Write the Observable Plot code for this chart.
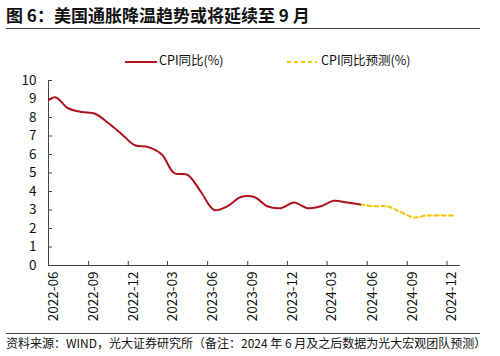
<!DOCTYPE html>
<html>
<head>
<meta charset="utf-8">
<script src="https://cdn.jsdelivr.net/npm/d3@7"></script>
<script src="https://cdn.jsdelivr.net/npm/@observablehq/plot@0.6"></script>
<style>
  html, body { margin: 0; padding: 0; background: #fff; }
  body { width: 500px; height: 356px; position: relative; overflow: hidden;
         font-family: "Noto Sans CJK SC", "Noto Sans", sans-serif; color: #111; }
  .title { position: absolute; left: 6px; top: 4px; font-size: 17px; font-weight: bold; line-height: 22px; white-space: nowrap; }
  .rule { position: absolute; left: 6px; width: 474px; height: 1px; background: #444; }
  .legend { position: absolute; top: 51px; left: 0; width: 500px; height: 18px; font-size: 12.5px; line-height: 18px; }
  .legend .item { position: absolute; top: 0; white-space: nowrap; }
  .legend svg { vertical-align: middle; }
  .caption { position: absolute; left: 6px; top: 335px; font-size: 12px; line-height: 16px; white-space: nowrap; color: #111; }
  #chart { position: absolute; left: 0; top: 70px; }
</style>
</head>
<body>
<div class="title">图 6：美国通胀降温趋势或将延续至 9 月</div>
<div class="rule" style="top:28px"></div>
<div class="legend">
  <div class="item" style="left:125px"><svg width="34" height="18"><line x1="0" x2="32" y1="9" y2="9" stroke="#B0121C" stroke-width="2"/></svg>CPI同比(%)</div>
  <div class="item" style="left:287px"><svg width="34" height="18"><line x1="0" x2="30" y1="9" y2="9" stroke="#F2C500" stroke-width="2" stroke-dasharray="4,3"/></svg>CPI同比预测(%)</div>
</div>
<div id="chart"></div>
<div class="rule" style="top:333px"></div>
<div class="caption">资料来源：WIND，光大证券研究所（备注：2024 年 6 月及之后数据为光大宏观团队预测）</div>
<script>
// Data
const actualMonths = ["2022-05","2022-06","2022-07","2022-08","2022-09","2022-10","2022-11","2022-12",
  "2023-01","2023-02","2023-03","2023-04","2023-05","2023-06","2023-07","2023-08","2023-09","2023-10","2023-11","2023-12",
  "2024-01","2024-02","2024-03","2024-04","2024-05"];
const actualValues = [8.6,9.1,8.5,8.3,8.2,7.7,7.1,6.5,
  6.4,6.0,5.0,4.9,4.0,3.0,3.2,3.7,3.7,3.2,3.1,3.4,
  3.1,3.2,3.5,3.4,3.3];
const forecastMonths = ["2024-05","2024-06","2024-07","2024-08","2024-09","2024-10","2024-11","2024-12"];
const forecastValues = [3.3,3.2,3.2,2.9,2.6,2.7,2.7,2.7];
const xTickLabels = ["2022-06","2022-09","2022-12","2023-03","2023-06","2023-09","2023-12","2024-03","2024-06","2024-09","2024-12"];
const yTickValues = [0,1,2,3,4,5,6,7,8,9,10];

const parseMonth = d3.utcParse("%Y-%m");
const midMonth = s => d3.utcDay.offset(parseMonth(s), 15);
const actual = actualMonths.map((m, i) => ({date: midMonth(m), value: actualValues[i]}));
const forecast = forecastMonths.map((m, i) => ({date: midMonth(m), value: forecastValues[i]}));
const xTicks = xTickLabels.map(parseMonth);
const xStart = parseMonth("2022-06");
const xEnd = parseMonth("2025-01");

const font = '"Noto Sans CJK SC", "Noto Sans", sans-serif';

const chart = Plot.plot({
  width: 500,
  height: 260,
  marginLeft: 48,
  marginRight: 40,
  marginTop: 10,
  marginBottom: 65,
  style: {fontFamily: font, fontSize: "13px", color: "#111", background: "white"},
  x: {type: "utc", domain: [xStart, xEnd]},
  y: {domain: [0, 10]},
  marks: [
    Plot.axisY({ticks: yTickValues, tickSize: 0, tickPadding: 12, label: null, fontSize: 13.5}),
    Plot.axisX({ticks: xTicks, tickSize: 0, tickPadding: 6, tickRotate: -90, tickFormat: d3.utcFormat("%Y-%m"), label: null, fontSize: 13.5, dx: 5}),
    Plot.tickY(yTickValues, {y: d => d, stroke: "#444", insetRight: 408}),
    Plot.tickX(xTicks, {x: d => d, stroke: "#444", insetTop: 181}),
    Plot.ruleY([0], {stroke: "#444"}),
    Plot.ruleX([xStart], {y1: 0, y2: 10, stroke: "#444"}),
    Plot.line(forecast, {x: "date", y: "value", stroke: "#F2C500", strokeWidth: 2, strokeDasharray: "4,3", curve: "catmull-rom"}),
    Plot.line(actual, {x: "date", y: "value", stroke: "#B0121C", strokeWidth: 2, curve: "catmull-rom", clip: true})
  ]
});
document.getElementById("chart").appendChild(chart);
</script>
</body>
</html>
